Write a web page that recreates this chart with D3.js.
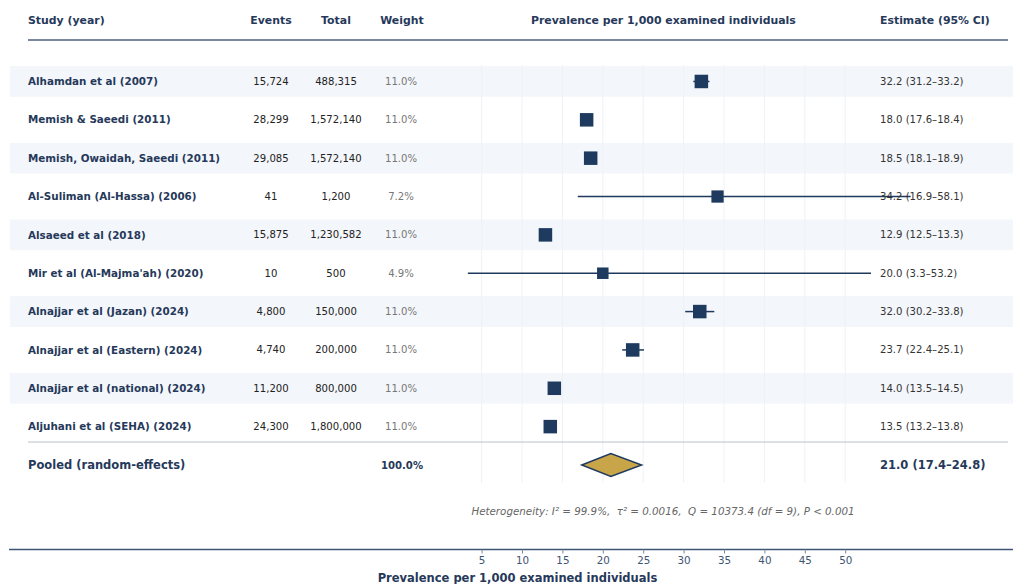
<!DOCTYPE html>
<html>
<head>
<meta charset="utf-8">
<script src="https://cdn.jsdelivr.net/npm/d3@7"></script>
<style>
  html, body { margin: 0; padding: 0; background: #fff; }
  svg { display: block; font-family: "DejaVu Sans", sans-serif; }
  .pre { white-space: pre; }
</style>
</head>
<body>
<svg id="chart" width="1013" height="584"></svg>
<script>
// Study-level data
const studies = [
  "Alhamdan et al (2007)",
  "Memish & Saeedi (2011)",
  "Memish, Owaidah, Saeedi (2011)",
  "Al-Suliman (Al-Hassa) (2006)",
  "Alsaeed et al (2018)",
  "Mir et al (Al-Majma'ah) (2020)",
  "Alnajjar et al (Jazan) (2024)",
  "Alnajjar et al (Eastern) (2024)",
  "Alnajjar et al (national) (2024)",
  "Aljuhani et al (SEHA) (2024)"
];
const events  = [15724, 28299, 29085, 41, 15875, 10, 4800, 4740, 11200, 24300];
const totals  = [488315, 1572140, 1572140, 1200, 1230582, 500, 150000, 200000, 800000, 1800000];
const weights = [11.0, 11.0, 11.0, 7.2, 11.0, 4.9, 11.0, 11.0, 11.0, 11.0];
const estimates = [32.2, 18.0, 18.5, 34.2, 12.9, 20.0, 32.0, 23.7, 14.0, 13.5];
const lower     = [31.2, 17.6, 18.1, 16.9, 12.5, 3.3, 30.2, 22.4, 13.5, 13.2];
const upper     = [33.2, 18.4, 18.9, 58.1, 13.3, 53.2, 33.8, 25.1, 14.5, 13.8];

// Pooled estimate
const pooledLabel = "Pooled (random-effects)";
const pooledWeight = 100.0;
const pooledEst = 21.0, pooledLo = 17.4, pooledHi = 24.8;

const xTicks = [5, 10, 15, 20, 25, 30, 35, 40, 45, 50];
const heteroText = "Heterogeneity: I\u00b2 = 99.9%,  \u03c4\u00b2 = 0.0016,  Q = 10373.4 (df = 9), P < 0.001";
const axisTitle = "Prevalence per 1,000 examined individuals";
const headers = { study: "Study (year)", events: "Events", total: "Total", weight: "Weight",
                  plot: "Prevalence per 1,000 examined individuals", est: "Estimate (95% CI)" };

const navy = "#1f3a5f";
const textNavy = "#26395a";
const svg = d3.select("#chart");

const x = d3.scaleLinear().domain([0, 55]).range([441.2, 885.6]);
const y = d3.scaleBand().domain(d3.range(studies.length)).range([62.3, 445.8]).paddingInner(0.2).paddingOuter(0.1);
const boxSize = d3.scaleLinear().domain([4.9, 11]).range([11.5, 13.5]);
const fmt = d3.format(",");
const f1 = d3.format(".1f");

const colX = { study: 28, events: 271, total: 336, weight: 401, est: 880 };

// Alternating row bands
svg.append("g").selectAll("rect")
  .data(d3.range(studies.length).filter(i => i % 2 === 0))
  .join("rect")
  .attr("x", 10).attr("width", 1003)
  .attr("y", i => y(i)).attr("height", y.bandwidth())
  .attr("fill", "#f3f6fa");

// Vertical gridlines
svg.append("g").selectAll("line")
  .data(xTicks)
  .join("line")
  .attr("x1", d => x(d)).attr("x2", d => x(d))
  .attr("y1", 65).attr("y2", 483)
  .attr("stroke", "#eef2f6").attr("stroke-width", 1);

// Header
const hdr = svg.append("g").attr("font-weight", "bold").attr("font-size", 10.9).attr("fill", textNavy);
hdr.append("text").attr("x", colX.study).attr("y", 24).text(headers.study);
hdr.append("text").attr("x", colX.events).attr("y", 24).attr("text-anchor", "middle").text(headers.events);
hdr.append("text").attr("x", colX.total).attr("y", 24).attr("text-anchor", "middle").text(headers.total);
hdr.append("text").attr("x", colX.weight + 1).attr("y", 24).attr("text-anchor", "middle").text(headers.weight);
hdr.append("text").attr("x", x(27.5)).attr("y", 24).attr("text-anchor", "middle").text(headers.plot);
hdr.append("text").attr("x", colX.est).attr("y", 24).text(headers.est);
svg.append("line").attr("x1", 28).attr("x2", 1008).attr("y1", 40).attr("y2", 40)
  .attr("stroke", "#4b5f7c").attr("stroke-width", 1.5);

// Study rows
const rows = svg.append("g").selectAll("g")
  .data(d3.range(studies.length))
  .join("g")
  .attr("transform", i => `translate(0,${y(i) + y.bandwidth() / 2})`);

rows.append("text").attr("x", colX.study).attr("dy", "0.35em")
  .attr("font-weight", "bold").attr("font-size", 10.35).attr("fill", textNavy)
  .text(i => studies[i]);
rows.append("text").attr("x", colX.events).attr("dy", "0.35em").attr("text-anchor", "middle")
  .attr("font-size", 10.1).attr("fill", "#222").text(i => fmt(events[i]));
rows.append("text").attr("x", colX.total).attr("dy", "0.35em").attr("text-anchor", "middle")
  .attr("font-size", 10.1).attr("fill", "#222").text(i => fmt(totals[i]));
rows.append("text").attr("x", colX.weight).attr("dy", "0.35em").attr("text-anchor", "middle")
  .attr("font-size", 10.1).attr("fill", "#777").text(i => f1(weights[i]) + "%");

// CI whiskers
rows.append("line")
  .attr("x1", i => x(lower[i])).attr("x2", i => x(upper[i]))
  .attr("stroke", navy).attr("stroke-width", 1.5);

// Estimate boxes
rows.append("rect")
  .attr("x", i => x(estimates[i]) - boxSize(weights[i]) / 2)
  .attr("y", i => -boxSize(weights[i]) / 2)
  .attr("width", i => boxSize(weights[i]))
  .attr("height", i => boxSize(weights[i]))
  .attr("fill", navy);

rows.append("text").attr("x", colX.est).attr("dy", "0.35em")
  .attr("font-size", 10.1).attr("fill", "#333")
  .text(i => `${f1(estimates[i])} (${f1(lower[i])}\u2013${f1(upper[i])})`);

// Separator before pooled row
svg.append("line").attr("x1", 28).attr("x2", 1008).attr("y1", 442).attr("y2", 442)
  .attr("stroke", "#b9c0ca").attr("stroke-width", 1.2);

// Pooled row
const py = 465;
const pooled = svg.append("g").attr("font-weight", "bold").attr("fill", textNavy);
pooled.append("text").attr("x", colX.study).attr("y", py).attr("dy", "0.35em").attr("font-size", 11.5).text(pooledLabel);
pooled.append("text").attr("x", colX.weight + 1).attr("y", py).attr("dy", "0.35em").attr("text-anchor", "middle")
  .attr("font-size", 10.1).text(f1(pooledWeight) + "%");
pooled.append("text").attr("x", colX.est).attr("y", py).attr("dy", "0.35em").attr("font-size", 11.5)
  .text(`${f1(pooledEst)} (${f1(pooledLo)}\u2013${f1(pooledHi)})`);

const dh = 11.5;
svg.append("path")
  .attr("d", d3.line()([[x(pooledLo), py], [x(pooledEst), py - dh], [x(pooledHi), py], [x(pooledEst), py + dh]]) + "Z")
  .attr("fill", "#c9a54a").attr("stroke", navy).attr("stroke-width", 1.5).attr("stroke-linejoin", "miter");

// Heterogeneity statistics
svg.append("text").attr("class", "pre").attr("x", 663).attr("y", 515).attr("text-anchor", "middle")
  .attr("font-style", "italic").attr("font-size", 10.3).attr("fill", "#666").text(heteroText);

// Bottom axis
const axisY = 549.5;
svg.append("line").attr("x1", 9).attr("x2", 1013).attr("y1", axisY).attr("y2", axisY)
  .attr("stroke", "#3d5472").attr("stroke-width", 1.5);
const ax = svg.append("g").attr("transform", `translate(0,${axisY})`)
  .call(d3.axisBottom(x).tickValues(xTicks).tickSize(4).tickPadding(3).tickFormat(d3.format("d")));
ax.select(".domain").remove();
ax.selectAll(".tick line").attr("stroke", "#7a8aa0");
ax.selectAll(".tick text").attr("font-family", "DejaVu Sans, sans-serif").attr("font-size", 10.3).attr("fill", "#3d5472");

svg.append("text").attr("x", 517.5).attr("y", 582).attr("text-anchor", "middle")
  .attr("font-weight", "bold").attr("font-size", 11.5).attr("fill", textNavy).text(axisTitle);
</script>
</body>
</html>
